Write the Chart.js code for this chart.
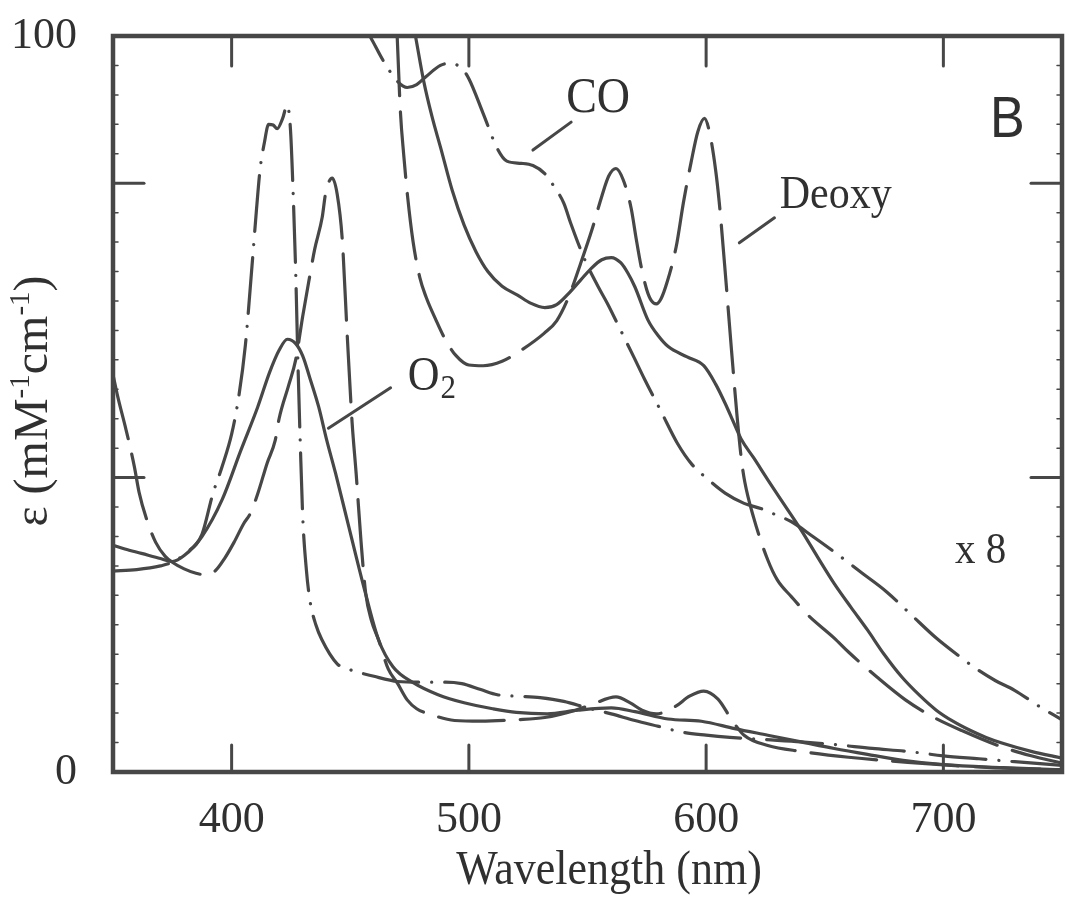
<!DOCTYPE html>
<html>
<head>
<meta charset="utf-8">
<title>Spectra B</title>
<script src="https://cdn.jsdelivr.net/npm/chart.js@4.4.1/dist/chart.umd.min.js"></script>
<style>
  html, body { margin: 0; padding: 0; background: #fff; }
  #wrap { width: 1069px; height: 898px; }
</style>
</head>
<body>
<div id="wrap"><canvas id="spectra" width="1069" height="898"></canvas></div>
<script>
// ===== values (nm, mM-1 cm-1) =====

// full scale curves (Soret region and their tails)
const o2Nm  = [350, 355, 362, 370, 375, 380, 387.5, 396, 404, 411, 416, 420, 423.5, 427, 430, 433, 436.7, 440, 443.8, 449.4, 456.4, 462, 468, 476.7, 487, 498, 510, 520, 533, 546, 560, 570, 584, 598, 612, 626, 640, 654, 668, 683, 700, 725, 750];
const o2Eps = [30.8, 30.3, 29.7, 29.0, 28.6, 29.4, 32.0, 37.0, 43.8, 49.6, 54.3, 57.3, 58.8, 58.2, 56.5, 53.5, 49.6, 45.2, 40.6, 33.3, 24.3, 17.9, 14.3, 12.1, 10.5, 9.4, 8.6, 8.1, 7.9, 8.4, 8.7, 8.2, 7.2, 6.9, 5.9, 5.0, 4.1, 3.2, 2.4, 1.6, 1.0, 0.6, 0.3];

const coNm  = [350, 360, 370, 375, 381, 387.5, 392, 396, 400, 403, 405.8, 408.6, 410.5, 412, 413.8, 415.6, 417.5, 419.2, 421.5, 423.4, 424.8, 426, 427, 428, 429, 430, 431.5, 433, 435.5, 438, 444.5, 449, 460, 470, 480, 490, 497, 505, 512, 520, 530, 540, 550, 560, 570, 580, 590, 600, 610, 625, 640, 655, 670, 685, 700, 715, 730, 750];
const coEps = [27.3, 27.5, 28.0, 28.5, 29.8, 32.3, 37.7, 41.5, 45.9, 51.0, 58.0, 68.8, 76.5, 81.9, 85.5, 88.0, 87.9, 87.4, 88.8, 90.6, 87.3, 78.0, 68.0, 55.0, 44.0, 34.5, 27.5, 23.3, 20.0, 18.0, 14.7, 14.0, 13.0, 12.3, 12.2, 12.2, 12.0, 11.2, 10.5, 10.3, 10.1, 9.6, 8.7, 7.9, 7.0, 6.2, 5.4, 5.0, 4.7, 4.4, 4.1, 3.7, 3.2, 2.8, 2.2, 1.8, 1.4, 0.9];

const deoxyNm  = [350, 352, 355.5, 359, 361, 364, 368, 372, 375, 380, 385, 389, 393, 397, 401, 405, 408, 411, 415, 418.4, 420, 424, 427, 430, 432.5, 435, 438.2, 439.6, 442.4, 444.5, 446.6, 448.7, 450.8, 452.5, 454.5, 456.5, 459, 462, 466, 470, 474, 478, 484, 494, 505, 520, 532, 545, 552, 562, 568, 573, 579, 587, 593, 599, 605, 611, 616, 626, 640, 660, 685, 720, 750];
const deoxyEps = [54, 51, 46.5, 41.5, 38, 34.5, 31.2, 29.3, 28.5, 27.6, 27.0, 26.8, 27.3, 29.0, 31.2, 33.7, 35.2, 37.8, 42.0, 45.1, 48.0, 52.5, 56.0, 62.0, 66.6, 71.0, 75.4, 78.6, 80.7, 78.5, 72.5, 59.5, 47.4, 40.5, 31.5, 24.3, 20.5, 17.9, 14.0, 12.0, 9.8, 8.6, 7.8, 7.0, 6.9, 7.1, 7.4, 8.4, 9.2, 10.2, 9.4, 8.4, 7.9, 8.9, 10.3, 11.0, 9.9, 7.0, 5.0, 3.6, 2.8, 2.0, 1.3, 0.6, 0.3];

// x 8 curves (visible region)
const o2x8Nm  = [474, 477.6, 481, 484.5, 488.2, 493, 498, 503, 508, 514, 520.5, 526, 532, 537, 542, 547, 551.5, 556, 560, 564, 567, 570, 575.5, 580, 584, 592, 599, 604, 608, 612, 615, 620, 626, 633, 640, 647, 654, 661, 668, 675, 682.5, 690, 697, 704, 711, 718, 725, 737, 750];
const o2x8Eps = [106, 99.8, 93.8, 89.0, 84.7, 79.0, 74.3, 70.7, 68.0, 66.0, 64.8, 63.7, 63.1, 63.5, 65.0, 66.8, 68.4, 69.6, 69.9, 69.2, 67.8, 65.9, 61.4, 59.2, 57.8, 56.4, 55.2, 52.7, 50.1, 47.2, 45.1, 42.7, 39.7, 36.3, 32.9, 29.2, 25.6, 22.4, 19.3, 16.0, 12.9, 10.4, 8.4, 6.9, 5.7, 4.7, 3.9, 2.8, 1.9];

const cox8Nm  = [452, 458.6, 464, 470, 474, 478, 482, 488, 492, 497, 500, 506, 512, 516, 522, 527, 532, 536, 540, 543, 549, 554.4, 558.5, 564, 569.8, 574, 581, 588, 594, 601, 608, 616, 623, 629, 636, 645, 654, 665, 676, 686, 697, 706, 714, 722, 730, 740, 750];
const cox8Eps = [103.3, 99.8, 96.6, 93.8, 93.0, 93.4, 94.5, 96.0, 96.3, 95.6, 94.2, 89.5, 84.7, 83.0, 82.7, 82.4, 81.3, 79.5, 77.3, 74.5, 69.5, 66.0, 63.6, 60.0, 56.2, 53.4, 49.0, 44.6, 41.8, 39.7, 37.9, 36.5, 35.8, 35.0, 34.0, 32.0, 29.9, 27.2, 24.5, 21.5, 18.2, 15.9, 14.0, 12.4, 11.1, 9.0, 7.1];

const deoxyx8Nm  = [468.5, 469.8, 471.2, 472.5, 474.2, 476.5, 479.3, 482, 486, 490, 494.5, 500, 506, 514, 522, 531.7, 537, 542, 547, 552, 556, 559, 562, 565, 568.4, 570.5, 572.6, 575, 577, 579, 581, 583.5, 587.4, 590.5, 593.7, 596.5, 599.3, 601.5, 604, 605.5, 607.8, 610.7, 613, 614.9, 616.3, 620, 626, 630, 636, 643, 654, 660, 672, 684, 695, 708, 724.7, 737, 750];
const deoxyx8Eps = [112, 99.8, 89.4, 84.0, 78.1, 72.0, 67.2, 64.5, 61.5, 58.8, 56.6, 55.3, 55.2, 55.8, 57.3, 59.6, 61.3, 64.5, 69.0, 73.8, 78.2, 81.0, 82.0, 80.5, 76.6, 72.5, 68.7, 65.5, 64.0, 63.6, 64.3, 66.5, 71.4, 77.5, 82.9, 87.0, 88.8, 86.8, 81.8, 77.5, 68.9, 57.3, 48.5, 42.4, 39.4, 34.6, 28.8, 26.1, 23.8, 21.3, 18.2, 16.3, 12.9, 9.8, 7.6, 5.6, 3.4, 2.2, 1.2];

// axes
const xTickValues = [400, 500, 600, 700];
const yTickLabels = [0, 100];
const yMajorTicks = [40, 80];

// ===== styles =====
const ink = '#474747';
const textInk = '#303030';
const serif = '"Liberation Serif", "Times New Roman", serif';
const longDash = [66, 16];
const dashDot = [56, 13, 0.1, 13];

function pts(nm, eps) {
  return nm.map((x, i) => ({ x: x, y: eps[i] }));
}

function curve(nm, eps, dash) {
  return {
    data: pts(nm, eps),
    borderColor: ink,
    borderWidth: 3.2,
    borderDash: dash,
    borderCapStyle: 'round',
    borderJoinStyle: 'round',
    pointRadius: 0,
    fill: false,
    cubicInterpolationMode: 'monotone',
    clip: 0
  };
}

// labels and pointer strokes, given in data coordinates
const curveLabels = [
  { text: 'CO', x: 541, y: 89.7, size: 46 },
  { text: 'Deoxy', x: 631, y: 76.6, size: 42 },
  { text: 'x 8', x: 704.9, y: 28.4, size: 41 }
];
const pointers = [
  [527, 84.5, 543.1, 88.3],
  [614, 71.9, 628.8, 75.3],
  [440.8, 46.7, 467, 52.2]
];

function line(ctx, x1, y1, x2, y2) {
  ctx.beginPath();
  ctx.moveTo(x1, y1);
  ctx.lineTo(x2, y2);
  ctx.stroke();
}

function stretchedText(ctx, str, x, y, font, sy) {
  ctx.save();
  ctx.translate(x, y);
  ctx.scale(1, sy);
  ctx.font = font;
  ctx.fillText(str, 0, 0);
  ctx.restore();
}

// keep the tick label overflow from pushing the plot frame around
function noOverflow(scale) {
  scale.paddingTop = 0;
  scale.paddingBottom = 0;
  scale.paddingLeft = 0;
  scale.paddingRight = 0;
}

const frameAndLabels = {
  id: 'frameAndLabels',
  afterDatasetsDraw(chart) {
    const ctx = chart.ctx;
    const { left, right, top, bottom } = chart.chartArea;
    const xs = chart.scales.x, ys = chart.scales.y;
    ctx.save();
    ctx.strokeStyle = ink;
    ctx.lineCap = 'round';

    // frame
    ctx.lineWidth = 4.5;
    ctx.strokeRect(left, top, right - left, bottom - top);

    // inward tick marks
    ctx.lineWidth = 3;
    xTickValues.forEach(v => {
      const px = xs.getPixelForValue(v);
      line(ctx, px, bottom, px, bottom - 27);
      line(ctx, px, top, px, top + 30);
    });
    yMajorTicks.forEach(v => {
      const py = ys.getPixelForValue(v);
      line(ctx, left, py, left + 31, py);
      line(ctx, right, py, right - 31, py);
    });
    ctx.lineWidth = 1.5;
    for (let v = 4; v < 100; v += 4) {
      if (yMajorTicks.includes(v)) continue;
      const py = ys.getPixelForValue(v);
      line(ctx, left, py, left + 5, py);
      line(ctx, right, py, right - 5, py);
    }

    // pointer strokes
    ctx.lineWidth = 3;
    pointers.forEach(p => {
      line(ctx, xs.getPixelForValue(p[0]), ys.getPixelForValue(p[1]),
                xs.getPixelForValue(p[2]), ys.getPixelForValue(p[3]));
    });

    // curve labels
    ctx.fillStyle = textInk;
    ctx.textAlign = 'left';
    ctx.textBaseline = 'alphabetic';
    curveLabels.forEach(l => {
      stretchedText(ctx, l.text, xs.getPixelForValue(l.x), ys.getPixelForValue(l.y),
        l.size + 'px ' + serif, 1.1);
    });

    // O2 with subscript
    const ox = xs.getPixelForValue(474.2), oy = ys.getPixelForValue(51.9);
    stretchedText(ctx, 'O', ox, oy, '44px ' + serif, 1.1);
    ctx.font = '44px ' + serif;
    const ow = ctx.measureText('O').width;
    stretchedText(ctx, '2', ox + ow + 1, oy + 8, '31px ' + serif, 1.1);

    // panel letter
    stretchedText(ctx, 'B', xs.getPixelForValue(719.7), ys.getPixelForValue(86.3),
      '52px "Liberation Sans", Arial, sans-serif', 1.12);

    // x axis title
    ctx.textAlign = 'center';
    stretchedText(ctx, 'Wavelength (nm)', 609, 884, '44px ' + serif, 1.08);

    // y axis title with superscripts, rotated
    ctx.save();
    ctx.translate(47, 401);
    ctx.rotate(-Math.PI / 2);
    ctx.textAlign = 'left';
    const parts = [
      { t: 'ε (mM', sup: false },
      { t: '-1', sup: true },
      { t: 'cm', sup: false },
      { t: '-1', sup: true },
      { t: ')', sup: false }
    ];
    const fs = 48, ss = 29;
    let total = 0;
    parts.forEach(p => {
      ctx.font = (p.sup ? ss : fs) + 'px ' + serif;
      p.w = ctx.measureText(p.t).width;
      total += p.w;
    });
    let cx = -total / 2;
    parts.forEach(p => {
      ctx.font = (p.sup ? ss : fs) + 'px ' + serif;
      ctx.fillText(p.t, cx, p.sup ? -18 : 0);
      cx += p.w;
    });
    ctx.restore();

    ctx.restore();
  }
};

const ctx = document.getElementById('spectra').getContext('2d');
const spectraChart = new Chart(ctx, {
  type: 'line',
  data: {
    datasets: [
      curve(o2Nm, o2Eps, []),
      curve(coNm, coEps, dashDot),
      curve(deoxyNm, deoxyEps, longDash),
      curve(o2x8Nm, o2x8Eps, []),
      curve(cox8Nm, cox8Eps, dashDot),
      curve(deoxyx8Nm, deoxyx8Eps, longDash)
    ]
  },
  options: {
    responsive: false,
    devicePixelRatio: 1,
    animation: false,
    layout: { padding: { left: 0, top: 36, right: 7, bottom: 0 } },
    plugins: {
      legend: { display: false },
      tooltip: { enabled: false }
    },
    scales: {
      x: {
        type: 'linear',
        min: 350,
        max: 750,
        afterBuildTicks: (scale) => { scale.ticks = xTickValues.map(v => ({ value: v })); },
        afterFit: (scale) => { scale.height = 898 - 772; noOverflow(scale); },
        grid: { display: false, drawTicks: false },
        border: { display: false },
        ticks: {
          padding: 22,
          color: textInk,
          font: { family: 'Liberation Serif', size: 44 },
          maxRotation: 0
        }
      },
      y: {
        min: 0,
        max: 100,
        afterBuildTicks: (scale) => { scale.ticks = yTickLabels.map(v => ({ value: v })); },
        afterFit: (scale) => { scale.width = 113; noOverflow(scale); },
        grid: { display: false, drawTicks: false },
        border: { display: false },
        ticks: {
          padding: 36,
          color: textInk,
          font: { family: 'Liberation Serif', size: 44 }
        }
      }
    }
  },
  plugins: [frameAndLabels]
});
</script>
</body>
</html>
